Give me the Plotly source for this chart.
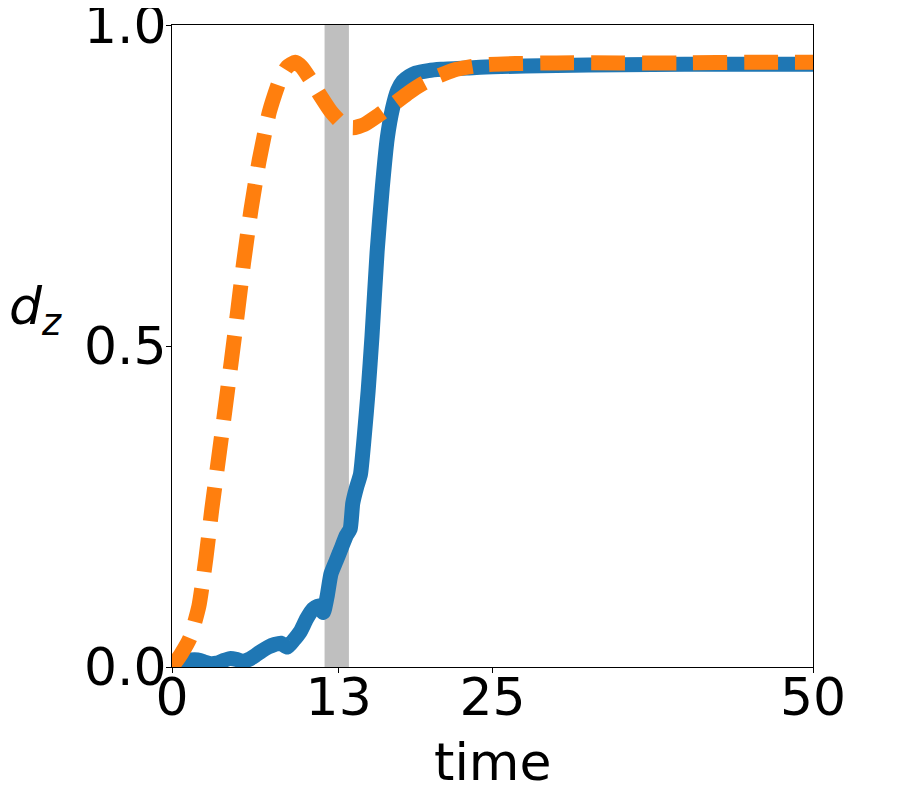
import plotly.graph_objects as go

# Data
t_blue = [0, 0.5, 1, 1.5, 2, 2.5, 3, 3.5, 4, 4.5, 5, 5.5, 6, 6.5, 7, 7.5, 8, 8.5, 9, 9.5,
          10, 10.5, 11, 11.4, 11.8, 12.1, 12.4, 12.8, 13.2, 13.6, 13.9, 14.1, 14.4, 14.7,
          15.0, 15.3, 15.6, 16.0, 16.4, 16.8, 17.2, 17.6, 18.0, 18.5, 19, 20, 21, 23, 25,
          30, 35, 40, 45, 50]
d_blue = [0, 0.004, 0.008, 0.011, 0.011, 0.008, 0.005, 0.006, 0.010, 0.013, 0.012, 0.009,
          0.012, 0.018, 0.025, 0.031, 0.035, 0.037, 0.031, 0.042, 0.055, 0.075, 0.090, 0.095,
          0.085, 0.110, 0.145, 0.165, 0.185, 0.205, 0.215, 0.255, 0.280, 0.300, 0.360, 0.430,
          0.515, 0.647, 0.746, 0.825, 0.870, 0.898, 0.912, 0.920, 0.925, 0.929, 0.931, 0.933,
          0.935, 0.937, 0.938, 0.939, 0.939, 0.939]

t_orange = [0, 0.7, 1.4, 2.1, 2.65, 3.1, 3.6, 4.15, 4.65, 5.14, 5.58, 6.16, 6.8, 7.6, 8.44,
            9.0, 9.6, 10.1, 10.8, 11.6, 12.4, 13.2, 14.1, 15.0, 16.0, 17.3, 18.5, 19.5, 20.6,
            22.0, 24.3, 27, 30, 35, 40, 45, 50]
d_orange = [0, 0.02, 0.045, 0.095, 0.17, 0.245, 0.32, 0.403, 0.48, 0.557, 0.629, 0.712,
            0.789, 0.865, 0.916, 0.935, 0.942, 0.935, 0.915, 0.889, 0.865, 0.848, 0.840,
            0.845, 0.858, 0.877, 0.895, 0.908, 0.919, 0.93, 0.938, 0.94, 0.941, 0.941,
            0.941, 0.942, 0.942]

band = [11.9, 13.8]
x_ticks = [0, 13, 25, 50]
y_ticks = [0.0, 0.5, 1.0]
y_tick_labels = ["0.0", "0.5", "1.0"]

FONT = "DejaVu Sans"

fig = go.Figure()
fig.add_trace(go.Scatter(x=t_blue, y=d_blue, mode="lines",
                         line=dict(color="#1f77b4", width=15, shape="spline", smoothing=0.5),
                         showlegend=False))
fig.add_trace(go.Scatter(x=t_orange, y=d_orange, mode="lines",
                         line=dict(color="#ff7f0e", width=15, dash="34px,17px",
                                   shape="spline", smoothing=0.5),
                         showlegend=False))

fig.add_shape(type="rect", xref="x", yref="paper", x0=band[0], x1=band[1], y0=0, y1=1,
              fillcolor="#bfbfbf", line=dict(width=0), layer="below")

fig.update_layout(
    width=894, height=782,
    margin=dict(l=164, r=89, t=17, b=123),
    plot_bgcolor="white", paper_bgcolor="white",
    font=dict(family=FONT, size=52, color="black"),
    xaxis=dict(range=[0, 50], tickvals=x_ticks, ticktext=[str(v) for v in x_ticks],
               showgrid=False, zeroline=False, showline=True, linecolor="black",
               linewidth=1, mirror=True, ticks="outside", ticklen=5, tickwidth=1,
               tickcolor="black", tickfont=dict(size=52), ticklabeloverflow="allow",
               automargin=False, ticklabelstandoff=-20),
    yaxis=dict(range=[0, 1], tickvals=y_ticks, ticktext=y_tick_labels,
               showgrid=False, zeroline=False, showline=True, linecolor="black",
               linewidth=1, mirror=True, ticks="outside", ticklen=5, tickwidth=1,
               tickcolor="black", tickfont=dict(size=52), ticklabeloverflow="allow",
               automargin=False, ticklabelstandoff=-11),
    annotations=[
        dict(text="time", xref="paper", yref="paper", x=0.5, y=-0.098,
             xanchor="center", yanchor="top", showarrow=False, font=dict(size=52)),
        dict(text="<i>d</i><sub><i>z</i></sub>", xref="paper", yref="paper", x=-0.258,
             y=0.556, xanchor="left", yanchor="middle", showarrow=False,
             font=dict(size=52)),
    ],
)

fig.write_html("out.html")
